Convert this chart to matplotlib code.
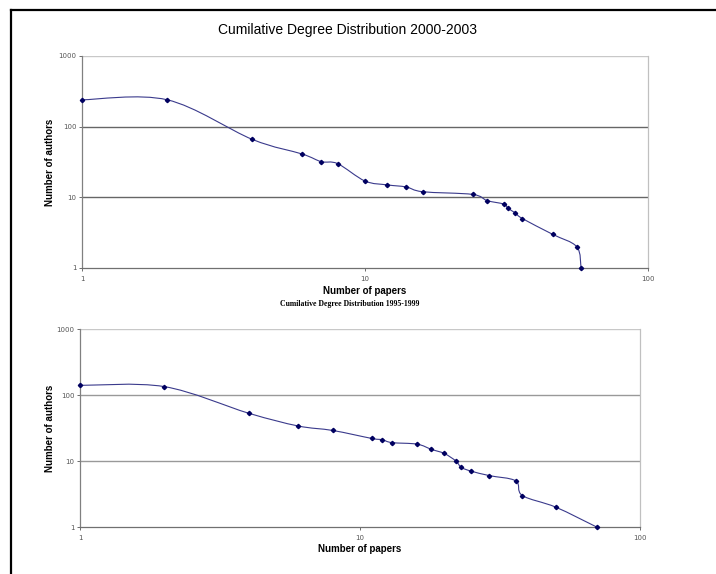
import numpy as np
import matplotlib
matplotlib.use("Agg")
import matplotlib.pyplot as plt
from matplotlib.path import Path
from matplotlib.patches import PathPatch
from matplotlib.lines import Line2D

# 2000-2003
papers_a = [1, 2, 4, 6, 7, 8, 10, 12, 14, 16, 24, 27, 31, 32, 34, 36, 46, 56, 58]
authors_a = [240, 240, 66, 41, 32, 30, 17, 15, 14, 12, 11, 9, 8, 7, 6, 5, 3, 2, 1]

# 1995-1999
papers_b = [1, 2, 4, 6, 8, 11, 12, 13, 16, 18, 20, 22, 23, 25, 29, 36, 38, 50, 70]
authors_b = [140, 134, 53, 34, 29, 22, 21, 19, 18, 15, 13, 10, 8, 7, 6, 5, 3, 2, 1]

title_a = "Cumilative Degree Distribution 2000-2003"
title_b = "Cumilative Degree Distribution 1995-1999"
yticks = [1, 10, 100, 1000]
xticks = [1, 10, 100]

line_col = "#3a3a8c"
mark_col = "#000060"


def smooth_path(x, y):
    # excel style smoothed line: catmull-rom -> bezier, done in log space
    lx, ly = np.log10(x), np.log10(y)
    pts = np.column_stack([lx, ly])
    n = len(pts)
    verts = [pts[0]]
    codes = [Path.MOVETO]
    for i in range(n - 1):
        p0 = pts[max(i - 1, 0)]
        p1 = pts[i]
        p2 = pts[i + 1]
        p3 = pts[min(i + 2, n - 1)]
        c1 = p1 + (p2 - p0) / 6.0
        c2 = p2 - (p3 - p1) / 6.0
        verts += [c1, c2, p2]
        codes += [Path.CURVE4] * 3
    verts = 10 ** np.array(verts)
    return Path(verts, codes)


def draw(ax, x, y, grid_col, grid_lw):
    ax.set_xscale("log")
    ax.set_yscale("log")
    ax.set_xlim(1, 100)
    ax.set_ylim(1, 1000)
    for v in yticks[1:-1]:
        ax.axhline(v, color=grid_col, lw=grid_lw, zorder=1)
    ax.axhline(1000, color="#c8c8c8", lw=1.0, zorder=1)
    ax.add_patch(PathPatch(smooth_path(x, y), fc="none", ec=line_col, lw=0.8,
                           zorder=2, clip_on=False))
    ax.plot(x, y, ls="none", marker="D", ms=2.2, color=mark_col, zorder=3, clip_on=False)
    ax.set_xticks(xticks)
    ax.set_xticklabels([str(t) for t in xticks])
    ax.set_yticks(yticks)
    ax.set_yticklabels([str(t) for t in yticks])
    ax.minorticks_off()
    ax.tick_params(labelsize=5, colors="#555555", length=2, width=0.6, pad=2)
    ax.xaxis.set_tick_params(pad=4)
    ax.spines["top"].set_visible(False)
    ax.spines["right"].set_color("#c0c0c0")
    ax.spines["left"].set_color("#808080")
    ax.spines["bottom"].set_color("#707070")
    for s in ax.spines.values():
        s.set_linewidth(0.9)
    ax.set_xlabel("Number of papers", fontsize=7, fontweight="bold", family="Liberation Sans")
    ax.set_ylabel("Number of authors", fontsize=7, fontweight="bold", family="Liberation Sans")


fig = plt.figure(figsize=(7.16, 5.74), dpi=100)
ax1 = fig.add_axes([82 / 716, 1 - 268 / 574, 566 / 716, 212 / 574])
ax2 = fig.add_axes([80 / 716, 1 - 527 / 574, 560 / 716, 198 / 574])

draw(ax1, papers_a, authors_a, "#666666", 1.0)
draw(ax2, papers_b, authors_b, "#999999", 1.0)

ax1.xaxis.set_label_coords(0.5, (268 - 291) / 212)
ax1.yaxis.set_label_coords((50 - 82) / 566, 0.5)
ax2.xaxis.set_label_coords(0.5, (527 - 549) / 198)
ax2.yaxis.set_label_coords((50 - 80) / 560, 0.5)
for a in (ax1, ax2):
    a.xaxis.label.set_va("center")
    a.yaxis.label.set_va("center")

fig.text(347 / 716, 1 - 30 / 574, title_a, ha="center", va="center",
         fontsize=10, family="Liberation Sans")
fig.text(350 / 716, 1 - 304 / 574, title_b, ha="center", va="center",
         fontsize=5.6, fontweight="bold", family="Liberation Serif")

# screenshot frame
fig.add_artist(Line2D([11 / 716, 1], [1 - 9.5 / 574] * 2, color="black", lw=1.6))
fig.add_artist(Line2D([11 / 716] * 2, [0, 1 - 9.5 / 574], color="black", lw=1.6))

fig.savefig("out.png", dpi=100)
